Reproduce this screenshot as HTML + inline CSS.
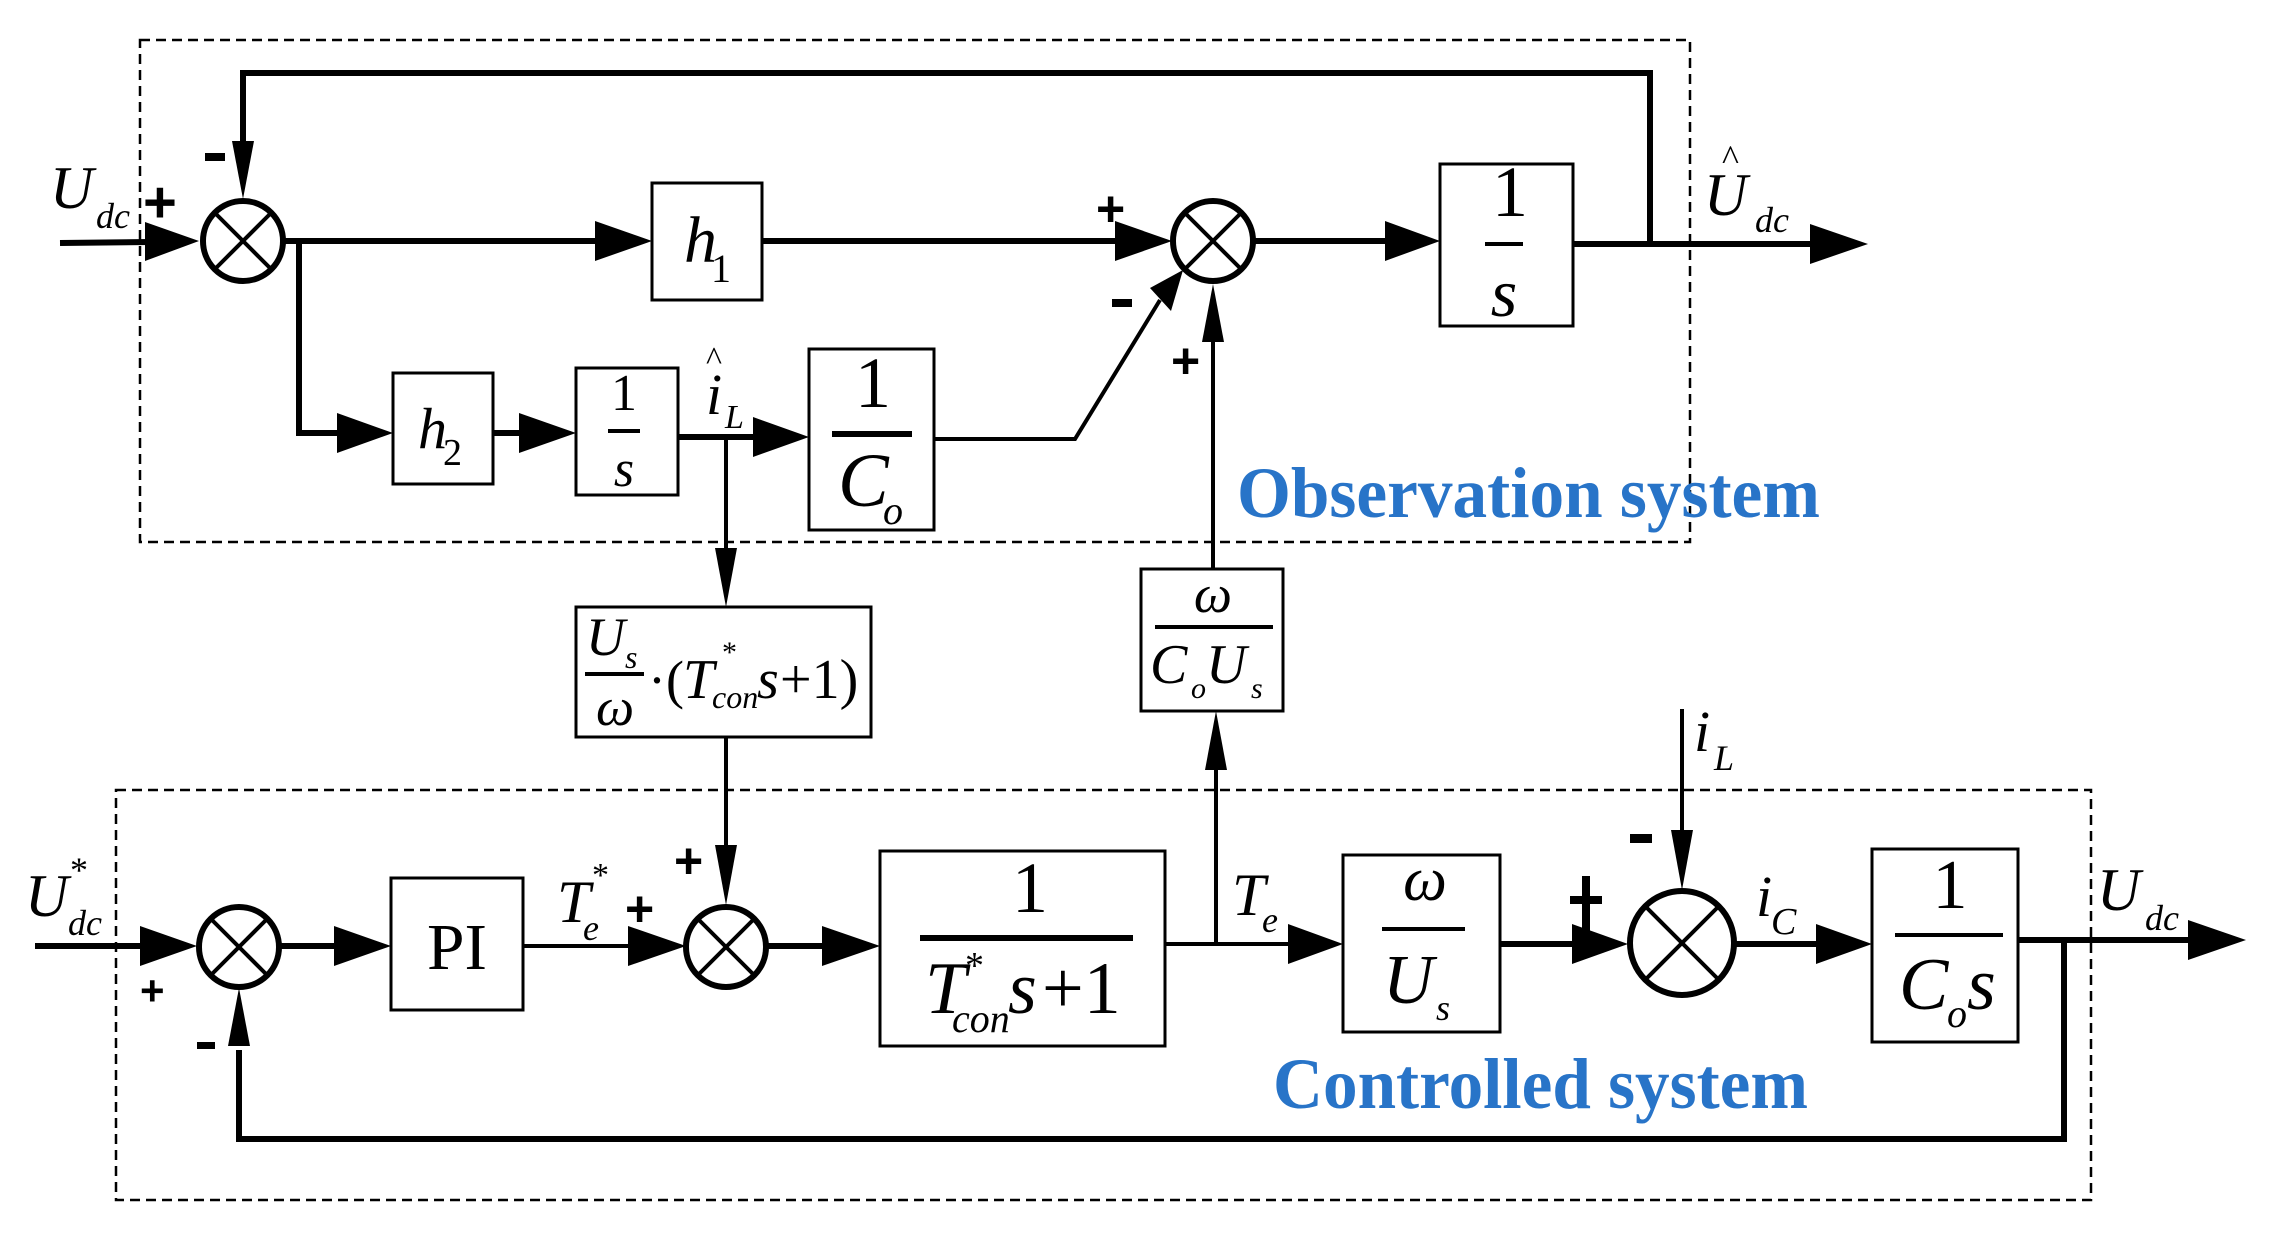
<!DOCTYPE html>
<html><head><meta charset="utf-8"><style>
html,body{margin:0;padding:0;background:#fff;}
svg{display:block;}
text{font-family:"Liberation Serif",serif;fill:#000;}
.i{font-style:italic;}
.b{stroke:#000;stroke-width:3;fill:#fff;}
.w{stroke:#000;stroke-width:6;fill:none;}
.t{stroke:#000;stroke-width:4;fill:none;}
.d{stroke:#000;stroke-width:2.5;fill:none;stroke-dasharray:10 6;}
.fb{stroke:#000;stroke-width:4;}
.s{stroke:#000;stroke-width:6;fill:#fff;}
.sg{font-family:"Liberation Sans",sans-serif;font-weight:bold;}
.blue{fill:#2874C8;font-weight:bold;}
</style></head><body>
<svg width="2270" height="1244" viewBox="0 0 2270 1244" xmlns="http://www.w3.org/2000/svg">
<!-- dashed boxes -->
<rect class="d" x="140" y="40" width="1550" height="502"/>
<rect class="d" x="116" y="790" width="1975" height="410"/>

<!-- ===== Observation ===== -->
<!-- input -->
<line class="w" x1="60" y1="243" x2="150" y2="242"/>
<polygon points="145,222 199,241 145,261"/>
<!-- sum1 -->
<circle class="s" cx="243" cy="241" r="40"/>
<line class="t" x1="215" y1="213" x2="271" y2="269"/><line class="t" x1="271" y1="213" x2="215" y2="269"/>
<!-- top feedback -->
<polyline class="w" points="1650,244 1650,73 243,73 243,145"/>
<polygon points="232,141 254,141 243,199"/>
<!-- to h1 -->
<line class="w" x1="283" y1="241" x2="600" y2="241"/>
<polygon points="595,221 652,241 595,261"/>
<rect class="b" x="652" y="183" width="110" height="117"/>
<text class="i" x="684" y="262" font-size="66">h</text><text x="711" y="282" font-size="40">1</text>
<line class="w" x1="762" y1="241" x2="1120" y2="241"/>
<polygon points="1115,221 1172,241 1115,261"/>
<!-- sum2 -->
<circle class="s" cx="1213" cy="241" r="40"/>
<line class="t" x1="1185" y1="213" x2="1241" y2="269"/><line class="t" x1="1241" y1="213" x2="1185" y2="269"/>
<line class="w" x1="1253" y1="241" x2="1390" y2="241"/>
<polygon points="1385,221 1440,241 1385,261"/>
<rect class="b" x="1440" y="164" width="133" height="162"/>
<text x="1510" y="216" font-size="72" text-anchor="middle">1</text>
<line class="fb" x1="1485" y1="244" x2="1523" y2="244"/>
<text class="i" x="1504" y="316" font-size="68" text-anchor="middle">s</text>
<line class="w" x1="1573" y1="244" x2="1815" y2="244"/>
<polygon points="1810,224 1868,244 1810,264"/>
<text class="i" x="1704" y="215" font-size="60">U</text>
<text x="1722" y="170" font-size="36">^</text>
<text class="i" x="1755" y="232" font-size="36">dc</text>
<text class="i" x="50" y="208" font-size="60">U</text>
<text class="i" x="96" y="228" font-size="36">dc</text>
<!-- lower branch -->
<polyline class="w" points="299,241 299,433 340,433"/>
<polygon points="337,413 393,433 337,453"/>
<rect class="b" x="393" y="373" width="100" height="111"/>
<text class="i" x="418" y="448" font-size="58">h</text><text x="443" y="465" font-size="38">2</text>
<line class="w" x1="493" y1="433" x2="522" y2="433"/>
<polygon points="519,413 576,433 519,453"/>
<rect class="b" x="576" y="368" width="102" height="127"/>
<text x="624" y="410" font-size="52" text-anchor="middle">1</text>
<line class="fb" x1="608" y1="431" x2="640" y2="431"/>
<text class="i" x="624" y="486" font-size="52" text-anchor="middle">s</text>
<line class="w" x1="678" y1="437" x2="757" y2="437"/>
<polygon points="753,417 809,437 753,457"/>
<text class="i" x="706" y="414" font-size="58">i</text>
<text x="706" y="370" font-size="34">^</text>
<text class="i" x="725" y="428" font-size="34">L</text>
<rect class="b" x="809" y="349" width="125" height="181"/>
<text x="873" y="407" font-size="72" text-anchor="middle">1</text>
<line class="w" x1="832" y1="434" x2="912" y2="434"/>
<text class="i" x="838" y="506" font-size="76">C</text>
<text class="i" x="883" y="524" font-size="40">o</text>
<polyline class="t" points="934,439 1075,439 1160,300"/>
<polygon points="1150,288 1183,270 1171,311"/>
<!-- signs sum1/sum2 -->
<text class="sg" x="143" y="222" font-size="58">+</text>
<rect x="205" y="153" width="20" height="8"/>
<text class="sg" x="1096" y="226" font-size="50">+</text>
<rect x="1112" y="299" width="20" height="8"/>
<text class="sg" x="1171" y="378" font-size="50">+</text>
<!-- i_L down -->
<line class="t" x1="726" y1="437" x2="726" y2="555"/>
<polygon points="715,548 737,548 726,607"/>
<rect class="b" x="576" y="607" width="295" height="130"/>
<text class="i" x="586" y="655" font-size="54">U</text>
<text class="i" x="625" y="668" font-size="32">s</text>
<line class="fb" x1="585" y1="674" x2="644" y2="674"/>
<text class="i" x="596" y="725" font-size="54">ω</text>
<text x="648" y="698" font-size="54">·(</text>
<text class="i" x="683" y="698" font-size="56">T</text>
<text x="722" y="662" font-size="30">*</text>
<text class="i" x="712" y="708" font-size="32">con</text>
<text class="i" x="757" y="698" font-size="56">s</text>
<text x="780" y="698" font-size="56">+1)</text>
<line class="t" x1="726" y1="737" x2="726" y2="850"/>
<polygon points="715,845 737,845 726,905"/>
<!-- omega/(CoUs) -->
<line class="t" x1="1213" y1="569" x2="1213" y2="340"/>
<polygon points="1202,342 1224,342 1213,284"/>
<rect class="b" x="1141" y="569" width="142" height="142"/>
<text class="i" x="1213" y="612" font-size="54" text-anchor="middle">ω</text>
<line class="fb" x1="1155" y1="627" x2="1273" y2="627"/>
<text class="i" x="1150" y="683" font-size="56">C</text>
<text class="i" x="1191" y="698" font-size="30">o</text>
<text class="i" x="1206" y="683" font-size="56">U</text>
<text class="i" x="1251" y="698" font-size="30">s</text>
<line class="t" x1="1216" y1="943" x2="1216" y2="765"/>
<polygon points="1205,770 1227,770 1216,711"/>
<!-- Labels -->
<text class="blue" x="1237" y="517" font-size="72" textLength="583" lengthAdjust="spacingAndGlyphs">Observation system</text>
<text class="blue" x="1273" y="1108" font-size="72" textLength="535" lengthAdjust="spacingAndGlyphs">Controlled system</text>

<!-- ===== Controlled ===== -->
<line class="w" x1="35" y1="946" x2="145" y2="946"/>
<polygon points="140,926 197,946 140,966"/>
<text class="i" x="25" y="916" font-size="60">U</text>
<text x="70" y="882" font-size="36">*</text>
<text class="i" x="68" y="935" font-size="36">dc</text>
<circle class="s" cx="239" cy="947" r="40"/>
<line class="t" x1="211" y1="919" x2="267" y2="975"/><line class="t" x1="267" y1="919" x2="211" y2="975"/>
<text class="sg" x="140" y="1005" font-size="42">+</text>
<rect x="197" y="1042" width="18" height="7"/>
<line class="w" x1="279" y1="946" x2="338" y2="946"/>
<polygon points="334,926 391,946 334,966"/>
<rect class="b" x="391" y="878" width="132" height="132"/>
<text x="457" y="969" font-size="66" text-anchor="middle" textLength="60" lengthAdjust="spacingAndGlyphs">PI</text>
<line class="t" x1="523" y1="946" x2="632" y2="946"/>
<polygon points="628,926 686,946 628,966"/>
<text class="i" x="557" y="922" font-size="60">T</text>
<text x="592" y="886" font-size="34">*</text>
<text class="i" x="583" y="940" font-size="36">e</text>
<text class="sg" x="674" y="878" font-size="50">+</text>
<text class="sg" x="625" y="926" font-size="50">+</text>
<circle class="s" cx="726" cy="947" r="40"/>
<line class="t" x1="698" y1="919" x2="754" y2="975"/><line class="t" x1="754" y1="919" x2="698" y2="975"/>
<line class="w" x1="766" y1="946" x2="826" y2="946"/>
<polygon points="822,926 880,946 822,966"/>
<rect class="b" x="880" y="851" width="285" height="195"/>
<text x="1030" y="912" font-size="72" text-anchor="middle">1</text>
<line class="w" x1="920" y1="938" x2="1133" y2="938"/>
<text class="i" x="925" y="1013" font-size="74">T</text>
<text x="965" y="978" font-size="38">*</text>
<text class="i" x="952" y="1032" font-size="40">con</text>
<text class="i" x="1008" y="1013" font-size="74">s</text>
<text x="1042" y="1013" font-size="74">+1</text>
<line class="t" x1="1165" y1="944" x2="1292" y2="944"/>
<polygon points="1288,924 1343,944 1288,964"/>
<text class="i" x="1232" y="915" font-size="60">T</text>
<text class="i" x="1262" y="932" font-size="36">e</text>
<rect class="b" x="1343" y="855" width="157" height="177"/>
<text class="i" x="1425" y="900" font-size="62" text-anchor="middle">ω</text>
<line class="fb" x1="1382" y1="929" x2="1465" y2="929"/>
<text class="i" x="1383" y="1003" font-size="70">U</text>
<text class="i" x="1436" y="1020" font-size="36">s</text>
<line class="w" x1="1500" y1="944" x2="1576" y2="944"/>
<polygon points="1572,924 1628,944 1572,964"/>
<rect x="1570" y="896" width="32" height="8"/><rect x="1582" y="876" width="8" height="60"/>
<circle class="s" cx="1682" cy="943" r="52"/>
<line class="t" x1="1645" y1="906" x2="1719" y2="980"/><line class="t" x1="1719" y1="906" x2="1645" y2="980"/>
<line class="t" x1="1682" y1="709" x2="1682" y2="835"/>
<polygon points="1671,830 1693,830 1682,890"/>
<text class="i" x="1694" y="751" font-size="58">i</text>
<text class="i" x="1714" y="770" font-size="36">L</text>
<rect x="1630" y="834" width="22" height="9"/>
<line class="w" x1="1734" y1="944" x2="1820" y2="944"/>
<polygon points="1816,924 1872,944 1816,964"/>
<text class="i" x="1756" y="916" font-size="58">i</text>
<text class="i" x="1771" y="934" font-size="38">C</text>
<rect class="b" x="1872" y="849" width="146" height="193"/>
<text x="1950" y="908" font-size="70" text-anchor="middle">1</text>
<line class="fb" x1="1895" y1="935" x2="2003" y2="935"/>
<text class="i" x="1899" y="1009" font-size="74">C</text>
<text class="i" x="1947" y="1027" font-size="40">o</text>
<text class="i" x="1967" y="1009" font-size="74">s</text>
<line class="w" x1="2018" y1="940" x2="2192" y2="940"/>
<polygon points="2188,920 2246,940 2188,960"/>
<text class="i" x="2097" y="910" font-size="60">U</text>
<text class="i" x="2145" y="930" font-size="36">dc</text>
<polyline class="w" points="2064,940 2064,1139 239,1139 239,1050"/>
<polygon points="228,1046 250,1046 239,988"/>
</svg>
</body></html>
